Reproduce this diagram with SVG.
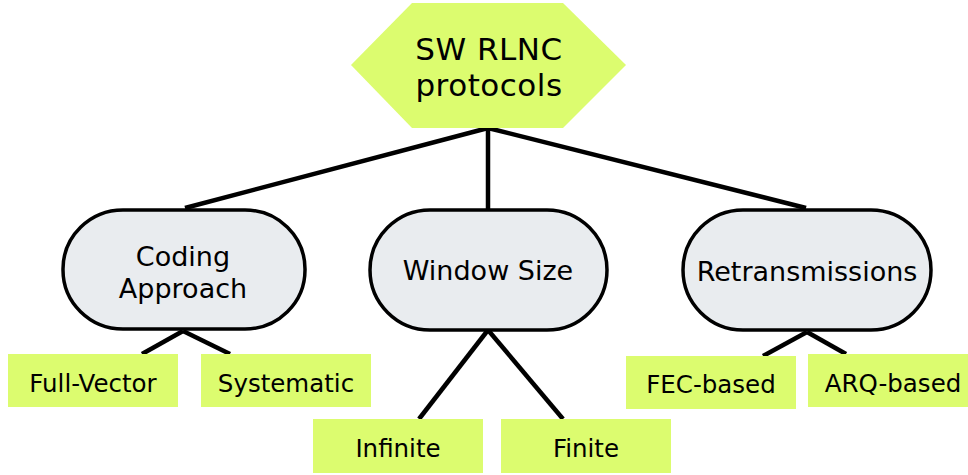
<svg xmlns="http://www.w3.org/2000/svg" width="968" height="475" viewBox="0 0 968 475">
<style>
text{font-family:"DejaVu Sans","Liberation Sans",sans-serif;fill:#000;text-anchor:middle}
.leaf{fill:#dcfc6f}
.pill{fill:#e9ecef;stroke:#000;stroke-width:3.5}
.conn line{stroke:#000;stroke-width:4.5}
.t32{font-size:31px;letter-spacing:0.5px}
.t27{font-size:27px}
.t24{font-size:24.5px}
</style>
<rect width="968" height="475" fill="#fff"/>
<g class="conn">
<line x1="488" y1="128" x2="185" y2="208"/>
<line x1="488" y1="128" x2="488" y2="211"/>
<line x1="488" y1="128" x2="806" y2="208"/>
<line x1="183" y1="331" x2="142" y2="354"/>
<line x1="183" y1="331" x2="230" y2="354"/>
<line x1="488" y1="330" x2="419" y2="419"/>
<line x1="488" y1="330" x2="563" y2="419"/>
<line x1="807" y1="332" x2="763" y2="356"/>
<line x1="807" y1="332" x2="846" y2="354"/>
</g>
<g id="root">
<polygon class="leaf" points="412,3 563,3 626,65 563,128 412,128 351,65"/>
<text class="t32" x="489" y="60">SW RLNC</text>
<text class="t32" x="489" y="96">protocols</text>
</g>
<g id="coding">
<rect class="pill" x="63" y="210" width="242" height="119" rx="60" ry="59"/>
<text class="t27" x="183" y="266">Coding</text>
<text class="t27" x="183" y="298">Approach</text>
</g>
<g id="window">
<rect class="pill" x="370" y="210" width="237" height="120" rx="60" ry="60"/>
<text class="t27" x="488" y="280">Window Size</text>
</g>
<g id="retrans">
<rect class="pill" x="683" y="210" width="248" height="120" rx="60" ry="60"/>
<text class="t27" x="807" y="281">Retransmissions</text>
</g>
<g id="fullvector">
<rect class="leaf" x="8" y="354" width="170" height="53"/>
<text class="t24" x="93" y="392">Full-Vector</text>
</g>
<g id="systematic">
<rect class="leaf" x="201" y="354" width="170" height="53"/>
<text class="t24" x="286" y="392">Systematic</text>
</g>
<g id="infinite">
<rect class="leaf" x="313" y="419" width="170" height="54"/>
<text class="t24" x="398" y="457">Infinite</text>
</g>
<g id="finite">
<rect class="leaf" x="501" y="419" width="170" height="54"/>
<text class="t24" x="586" y="457">Finite</text>
</g>
<g id="fec">
<rect class="leaf" x="626" y="356" width="170" height="53"/>
<text class="t24" x="711" y="393">FEC-based</text>
</g>
<g id="arq">
<rect class="leaf" x="808" y="354" width="170" height="53"/>
<text class="t24" x="893" y="392">ARQ-based</text>
</g>
</svg>
